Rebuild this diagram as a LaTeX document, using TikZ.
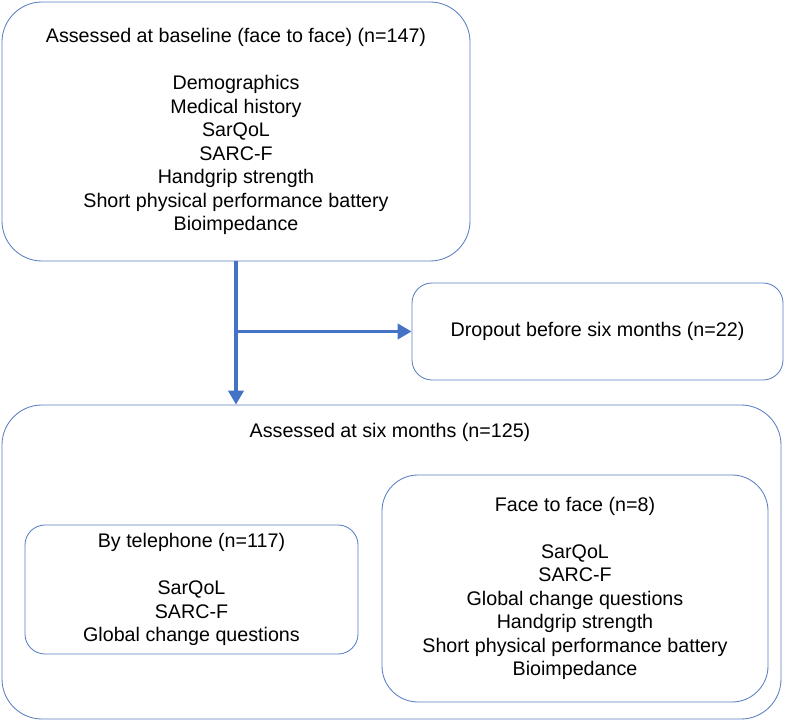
\documentclass[tikz,border=0pt]{standalone}
\usepackage{fontspec}
\setmainfont{Liberation Sans}
\usetikzlibrary{arrows.meta,calc,positioning}
\definecolor{boxblue}{HTML}{5A7FC2}
\definecolor{arrowblue}{HTML}{4472C4}
\tikzstyle{box}=[rectangle,draw=boxblue,line width=0.6pt,fill=white,inner sep=0pt,align=center,anchor=center,font=\fontsize{14}{16.7}\selectfont]
\tikzstyle{bigbox}=[box,rounded corners=1cm]
\tikzstyle{smallbox}=[box,rounded corners=0.5cm]
\tikzstyle{annot}=[align=center,font=\fontsize{14}{16.7}\selectfont]
\tikzstyle{flow}=[draw=arrowblue,line width=2.8pt,-{Triangle[length=0.35cm,width=0.38cm]}]

\begin{document}
\begin{tikzpicture}
	\useasboundingbox (0,0) rectangle (19.65,-18.075);

	\node[bigbox, minimum width=11.7cm, minimum height=6.475cm](base) at (5.9,-3.2875){Assessed at baseline (face to face) (n=147)\\[16.7pt]
		Demographics\\Medical history\\SarQoL\\SARC-F\\Handgrip strength\\Short physical performance battery\\Bioimpedance};
	\node[smallbox, minimum width=9.275cm, minimum height=2.425cm](dropout) at (14.9375,-8.2875){Dropout before six months (n=22)};

	\node[bigbox, minimum width=19.475cm, minimum height=7.85cm](sixmonths) at (9.7875,-14.05){};
	\node[annot](sixlabel) at (9.75,-10.8){Assessed at six months (n=125)};
	\node[smallbox, minimum width=8.325cm, minimum height=3.225cm](phone) at (4.7875,-14.7375){By telephone (n=117)\\[16.7pt]
		SarQoL\\SARC-F\\Global change questions};
	\node[bigbox, rounded corners=0.9cm, minimum width=9.65cm, minimum height=5.675cm](visit) at (14.375,-14.7125){Face to face (n=8)\\[16.7pt]
		SarQoL\\SARC-F\\Global change questions\\Handgrip strength\\Short physical performance battery\\Bioimpedance};

	\coordinate (split) at (base.south |- dropout.west);
	\draw[flow] (base.south) -- (base.south |- sixmonths.north);
	\draw[flow] (split) -- (dropout.west);

\end{tikzpicture}
\end{document}
